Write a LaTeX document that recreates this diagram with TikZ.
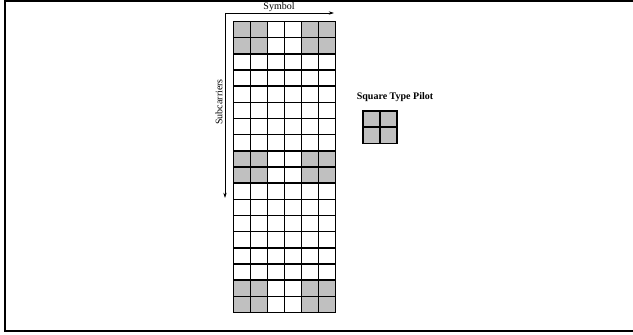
\documentclass[tikz,border=0pt]{standalone}
\usepackage{fontspec}
\setmainfont{Liberation Serif}
\usetikzlibrary{arrows.meta}
\definecolor{pilotgray}{RGB}{192,192,192}
\tikzset{
  cellbox/.style={draw=black, line width=1.1pt},
  pilot/.style={cellbox, fill=pilotgray},
  axisline/.style={draw=black, line width=0.5pt, -{Stealth[length=4pt,width=2.5pt]}},
  lbl/.style={font=\fontsize{7.5}{9}\selectfont, inner sep=0pt},
}
\begin{document}
\begin{tikzpicture}[x=0.75pt,y=-0.75pt]
\useasboundingbox (0,0) rectangle (633,335);
% frame
\draw[line width=1.5pt] (5,1) rectangle (640,331);
% main grid: 6 columns x 18 rows
\foreach \r in {0,...,17}{
  \foreach \c in {0,...,5}{
    \pgfmathtruncatemacro{\isrow}{(\r<2)||(\r>7 && \r<10)||(\r>15)}
    \pgfmathtruncatemacro{\iscol}{(\c<2)||(\c>3)}
    \pgfmathtruncatemacro{\ispilot}{\isrow*\iscol}
    \ifnum\ispilot=1
      \path[pilot] (233.5+17*\c,21.5+16.17*\r) rectangle ++(17,16.17);
    \else
      \path[cellbox,fill=white] (233.5+17*\c,21.5+16.17*\r) rectangle ++(17,16.17);
    \fi
  }
}
% axes
\coordinate (origin) at (225,13);
\coordinate (symend) at (334,13);
\coordinate (subend) at (225,198);
\draw[axisline] (origin) -- (symend);
\draw[axisline] (origin) -- (subend);
\node[lbl] (symbol) at (279,7) {Symbol};
\node[lbl, rotate=90] (subc) at (219,102) {Subcarriers};
% square type pilot
\node[lbl, font=\fontsize{7.5}{9}\selectfont\bfseries] (sqlabel) at (395,97) {Square Type Pilot};
\foreach \r in {0,1}{
  \foreach \c in {0,1}{
    \path[pilot] (363+17*\c,111+16.2*\r) rectangle ++(17,16.2);
  }
}
\end{tikzpicture}
\end{document}
